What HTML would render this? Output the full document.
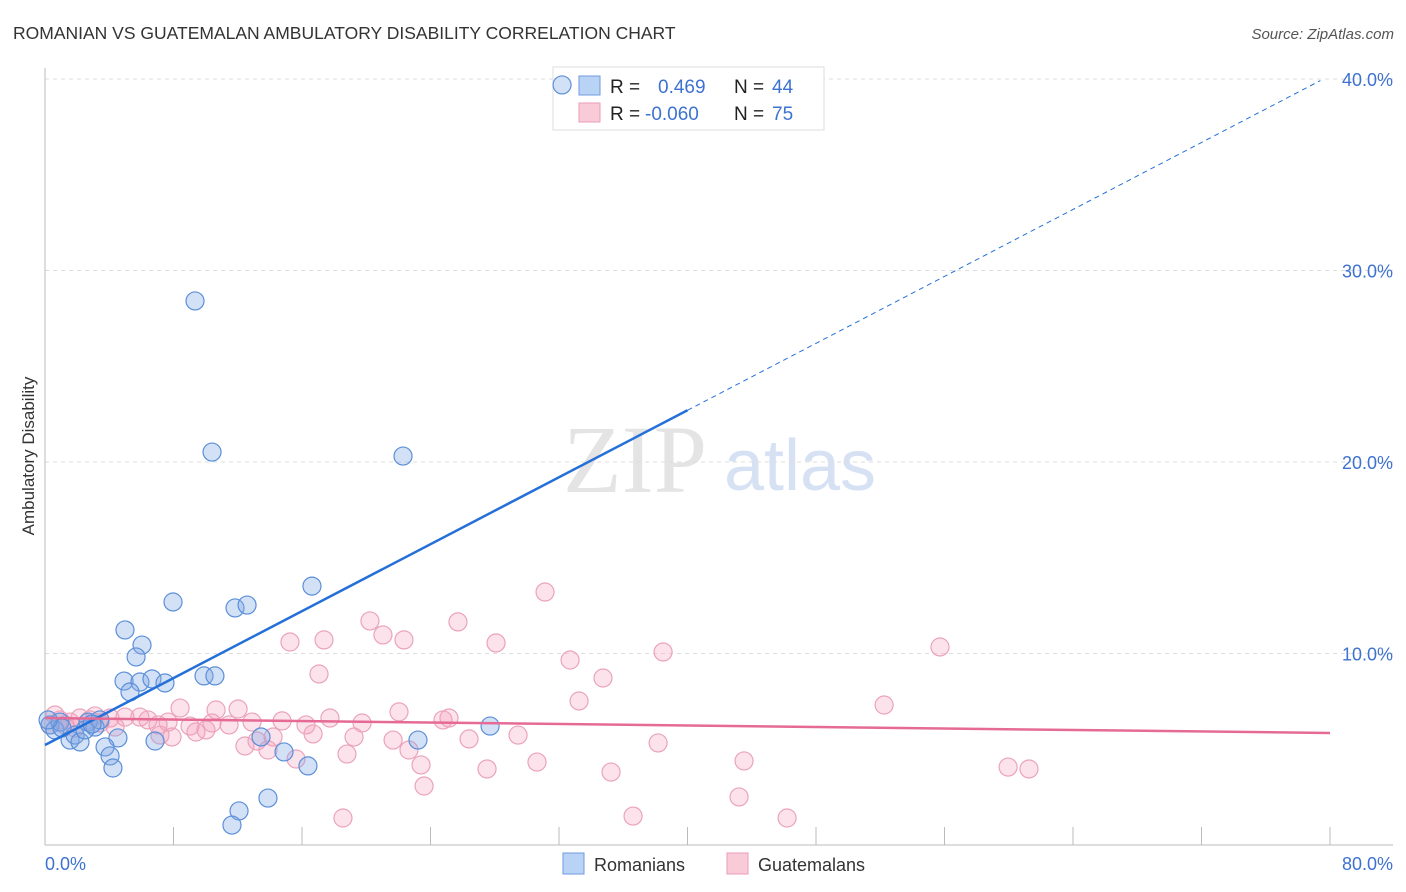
<!DOCTYPE html>
<html><head><meta charset="utf-8"><style>
body{margin:0;background:#fff;font-family:"Liberation Sans",sans-serif;}
svg{display:block}
</style></head><body>
<svg id="chart" width="1406" height="892" xmlns="http://www.w3.org/2000/svg">
<text x="13" y="39" font-size="17.5" fill="#333">ROMANIAN VS GUATEMALAN AMBULATORY DISABILITY CORRELATION CHART</text>
<text x="1394" y="39" font-size="15" fill="#555" font-style="italic" text-anchor="end">Source: ZipAtlas.com</text>
<text transform="translate(34,456) rotate(-90)" font-size="17" fill="#333" text-anchor="middle">Ambulatory Disability</text>
<g><text x="635" y="492" font-family="Liberation Serif,serif" font-size="96" fill="#e4e4e4" text-anchor="middle">ZIP</text><text x="800" y="490" font-size="72" fill="#d6e2f3" text-anchor="middle">atlas</text></g>
<g id="grid"></g><g id="axes"></g>
<g>
<rect x="553" y="67" width="271" height="63" fill="#fff" stroke="#ddd"/>
<rect x="579" y="76" width="21" height="19" fill="#b9d3f5" stroke="#6d9be0"/>
<rect x="579" y="103" width="21" height="19" fill="#f9cad8" stroke="#ec9db7"/>
<text x="610" y="93" font-size="19" fill="#222">R = <tspan x="658" fill="#3d72d0">0.469</tspan><tspan x="734" fill="#222">N = </tspan><tspan x="772" fill="#3d72d0">44</tspan></text>
<text x="610" y="120" font-size="19" fill="#222">R = <tspan x="645" fill="#3d72d0">-0.060</tspan><tspan x="734" fill="#222">N = </tspan><tspan x="772" fill="#3d72d0">75</tspan></text>
</g>
<g id="marks"></g><g id="lines"></g>
<g>
<rect x="563" y="853" width="21" height="21" fill="#b9d3f5" stroke="#6d9be0"/>
<text x="594" y="871" font-size="18" fill="#333">Romanians</text>
<rect x="727" y="853" width="21" height="21" fill="#f9cad8" stroke="#ec9db7"/>
<text x="758" y="871" font-size="18" fill="#333">Guatemalans</text>
</g>
</svg>
<script>
const yTicks=[10,20,30,40];
const yTickLabels=["10.0%","20.0%","30.0%","40.0%"];
const xTicks=[0,8,16,24,32,40,48,56,64,72,80];
const romX=[32.19,9.34,10.40,22.29,16.62,7.97,11.83,12.58,4.98,6.04,5.67,4.92,5.91,6.66,7.47,5.29,9.90,10.58,6.85,4.54,3.74,4.05,4.23,13.45,14.88,16.37,23.22,27.71,13.88,12.08,11.64,0.31,0.62,0.93,1.56,1.87,2.18,2.68,3.11,3.42,1.06,0.19,2.49,2.93];
const romY=[39.69,28.41,20.52,20.31,13.52,12.69,12.38,12.53,11.23,10.44,9.82,8.56,8.51,8.67,8.46,7.99,8.83,8.83,5.43,5.59,5.12,4.65,4.02,5.64,4.86,4.13,5.48,6.21,2.45,1.78,1.04,6.27,6.01,6.42,5.48,5.74,5.38,6.42,6.16,6.53,6.11,6.53,6.01,6.32];
const guaX=[31.13,20.23,25.71,21.04,22.35,17.37,15.25,28.08,32.69,38.48,55.72,17.06,34.74,33.25,52.24,8.41,12.02,10.65,22.04,17.74,25.15,24.78,10.40,12.89,14.76,19.74,16.25,5.91,7.66,4.98,9.03,11.46,10.02,14.20,16.69,19.24,21.67,26.40,29.45,38.17,7.16,9.40,7.91,12.45,13.20,13.88,15.63,18.80,22.66,23.41,30.63,43.52,27.52,35.24,59.96,61.26,23.60,43.21,36.61,46.20,18.55,0.93,1.56,2.18,2.80,3.42,4.05,4.36,0.62,1.25,1.87,6.41,7.04,0.31,3.11];
const guaY=[13.21,11.70,11.65,10.97,10.71,10.71,10.60,10.55,9.66,10.08,10.34,8.93,8.72,7.52,7.31,7.15,7.10,7.05,6.95,6.63,6.63,6.53,6.37,6.42,6.48,6.37,6.27,6.68,6.42,6.68,6.21,6.27,6.01,5.64,5.80,5.64,5.48,5.54,5.74,5.33,5.74,5.90,5.64,5.17,5.43,4.96,4.49,4.75,4.96,4.18,4.33,4.39,3.97,3.81,4.07,3.97,3.08,2.51,1.51,1.41,1.41,6.53,6.42,6.63,6.53,6.37,6.63,6.16,6.79,6.27,6.11,6.53,6.27,6.27,6.74];
const romFit=[5.22,22.7];
const guaFit=[6.63,5.85];
const NS="http://www.w3.org/2000/svg";
const sx=v=>45+v/80*1285;
const sy=v=>845-v*19.15;
function mk(tag,attrs,parent){const e=document.createElementNS(NS,tag);for(const k in attrs)e.setAttribute(k,attrs[k]);document.getElementById(parent).appendChild(e);return e;}
yTicks.forEach((t,i)=>{
 const g=mk('line',{x1:45,x2:1393,y1:sy(t),y2:sy(t),stroke:'#ddd','stroke-dasharray':'4,4'},'grid');
 
 
 const l=mk('text',{x:1393,y:sy(t)+7,'font-size':18,fill:'#3d72d0','text-anchor':'end'},'axes');
 l.textContent=yTickLabels[i];
 
 
});
const ax=mk('line',{x1:45,x2:1393,y1:845,y2:845,stroke:'#bbb'},'axes');


const ay=mk('line',{x1:45,x2:45,y1:68,y2:845,stroke:'#bbb'},'axes');


xTicks.forEach(t=>{
 const k=mk('line',{x1:sx(t),x2:sx(t),y1:827,y2:845,stroke:'#bbb'},'axes');
 
 
});
const x0=mk('text',{x:45,y:870,'font-size':18,fill:'#3d72d0'},'axes');x0.textContent='0.0%';


const x1=mk('text',{x:1393,y:870,'font-size':18,fill:'#3d72d0','text-anchor':'end'},'axes');x1.textContent='80.0%';


guaX.forEach((x,i)=>{
 const c=mk('circle',{cx:sx(x),cy:sy(guaY[i]),r:9,fill:'rgba(244,160,188,0.3)',stroke:'#eba3bb','stroke-width':1.2},'marks');
 
 
});
romX.forEach((x,i)=>{
 const c=mk('circle',{cx:sx(x),cy:sy(romY[i]),r:9,fill:'rgba(130,170,230,0.35)',stroke:'#5b8fd9','stroke-width':1.2},'marks');
 
 
});
const bslope=(romFit[1]-romFit[0])/40;
const bl=mk('line',{x1:sx(0),y1:sy(romFit[0]),x2:sx(40),y2:sy(romFit[1]),stroke:'#2470d8','stroke-width':2.5},'lines');


const bd=mk('line',{x1:sx(40),y1:sy(romFit[1]),x2:sx(79.4),y2:sy(romFit[0]+bslope*79.4),stroke:'#2470d8','stroke-width':1,'stroke-dasharray':'5,4'},'lines');


const pl=mk('line',{x1:sx(0),y1:sy(guaFit[0]),x2:sx(80),y2:sy(guaFit[1]),stroke:'#e56a95','stroke-width':2.5},'lines');


</script>
</body></html>
